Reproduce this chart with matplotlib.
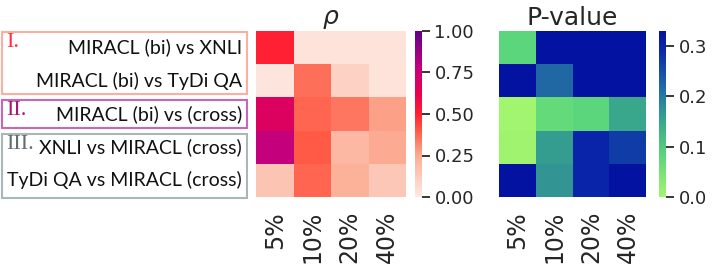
import numpy as np
import matplotlib
matplotlib.use("Agg")
import matplotlib.pyplot as plt
import seaborn as sns
from matplotlib.colors import LinearSegmentedColormap
from matplotlib.patches import Rectangle

pairs = ["MIRACL (bi) vs XNLI",
         "MIRACL (bi) vs TyDi QA",
         "MIRACL (bi) vs (cross)",
         "XNLI vs MIRACL (cross)",
         "TyDi QA vs MIRACL (cross)"]
budgets = ["5%", "10%", "20%", "40%"]

rho = np.array([
    [0.50, 0.03, 0.03, 0.03],
    [0.02, 0.36, 0.10, 0.03],
    [0.68, 0.38, 0.35, 0.27],
    [0.78, 0.40, 0.20, 0.25],
    [0.15, 0.38, 0.23, 0.14],
])
pval = np.array([
    [0.08, 0.40, 0.40, 0.40],
    [0.40, 0.22, 0.40, 0.40],
    [0.00, 0.07, 0.08, 0.15],
    [0.005, 0.16, 0.30, 0.27],
    [0.40, 0.17, 0.30, 0.40],
])

# groups: numeral, colour of numeral, colour of frame, frame in px (left, top, right, bottom)
groups = [
    ("I.", "#ff3340", "#f9b0a0", (2, 32, 247, 94)),
    ("II.", "#a0187a", "#c866b8", (2, 100, 247, 128)),
    ("III.", "#5f6f6f", "#a8b8b8", (2, 134, 247, 198)),
]

rho_cmap = LinearSegmentedColormap.from_list("rho", [
    (0.0, "#fdeae3"), (0.25, "#fcab92"), (0.4, "#ff5a46"),
    (0.5, "#ff2233"), (0.62, "#ec004c"), (0.78, "#c4007c"), (1.0, "#640088")])
p_cmap = LinearSegmentedColormap.from_list("pv", [
    (0.0, "#a2f56e"), (0.25, "#5ad57c"), (0.45, "#3aa88a"),
    (0.62, "#2476a2"), (0.88, "#0a2aaa"), (1.0, "#0412a2")])

W, H = 718, 272
fig = plt.figure(figsize=(W / 100, H / 100), dpi=100)


def px(l, t, r, b):
    return [l / W, 1 - b / H, (r - l) / W, (b - t) / H]


ax1 = fig.add_axes(px(256, 31, 406, 197))
cax1 = fig.add_axes(px(415, 31, 422, 197))
ax2 = fig.add_axes(px(499, 31, 646, 197))
cax2 = fig.add_axes(px(659, 31, 666, 197))

sns.heatmap(rho, ax=ax1, cbar_ax=cax1, cmap=rho_cmap, vmin=0, vmax=1,
            xticklabels=budgets, yticklabels=pairs)
sns.heatmap(pval, ax=ax2, cbar_ax=cax2, cmap=p_cmap, vmin=0, vmax=0.33,
            xticklabels=budgets, yticklabels=False)

tc = "#262626"
for ax, title in [(ax1, r"$\rho$"), (ax2, "P-value")]:
    ax.set_title(title, fontsize=18, color=tc, pad=4)
    ax.tick_params(length=0, colors=tc)
    ax.tick_params(axis="x", labelsize=17, pad=10, labelrotation=90)
ax1.tick_params(axis="y", pad=10, labelrotation=0)
for lab in ax1.get_yticklabels():
    lab.set_color("#111111")
    lab.set_fontfamily("Lato")
    lab.set_fontsize(14)

cax1.set_yticks([0, 0.25, 0.5, 0.75, 1.0])
cax1.set_yticklabels(["0.00", "0.25", "0.50", "0.75", "1.00"])
cax2.set_yticks([0, 0.1, 0.2, 0.3])
cax2.set_yticklabels(["0.0", "0.1", "0.2", "0.3"])
for cax in (cax1, cax2):
    cax.tick_params(length=6, width=1.3, color=tc, labelcolor=tc, labelsize=13, pad=3)

for num, ncol, fcol, (l, t, r, b) in groups:
    fig.patches.append(Rectangle((l / W, 1 - b / H), (r - l) / W, (b - t) / H,
                                 transform=fig.transFigure, fill=False,
                                 edgecolor=fcol, linewidth=1.5))
    fig.text(6 / W, 1 - (t + 1) / H, num, color=ncol, fontsize=16,
             family="Liberation Serif", va="top", ha="left")

fig.savefig("out.png", dpi=100)
